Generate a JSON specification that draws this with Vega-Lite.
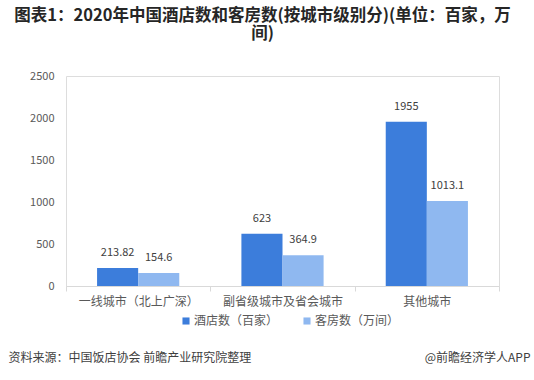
{
  "$schema": "https://vega.github.io/schema/vega-lite/v6.json",
  "width": 433,
  "height": 210,
  "autosize": {"type": "none"},
  "padding": {"left": 66, "top": 76, "right": 35, "bottom": 94},
  "background": "white",
  "title": {
    "text": "图表1：2020年中国酒店数和客房数(按城市级别分)(单位：百家，万",
    "subtitle": "间)",
    "font": "Noto Sans CJK SC",
    "fontSize": 16.5,
    "fontWeight": "bold",
    "color": "#262626",
    "subtitleFont": "Noto Sans CJK SC",
    "subtitleFontSize": 16.5,
    "subtitleFontWeight": "bold",
    "subtitleColor": "#262626",
    "subtitlePadding": 1,
    "anchor": "middle",
    "dx": -20,
    "offset": 28
  },
  "data": {
    "values": [
      {"city": "一线城市（北上广深）", "series": "酒店数（百家）", "value": 213.82, "label": "213.82"},
      {"city": "一线城市（北上广深）", "series": "客房数（万间）", "value": 154.6, "label": "154.6"},
      {"city": "副省级城市及省会城市", "series": "酒店数（百家）", "value": 623, "label": "623"},
      {"city": "副省级城市及省会城市", "series": "客房数（万间）", "value": 364.9, "label": "364.9"},
      {"city": "其他城市", "series": "酒店数（百家）", "value": 1955, "label": "1955"},
      {"city": "其他城市", "series": "客房数（万间）", "value": 1013.1, "label": "1013.1"}
    ]
  },
  "encoding": {
    "x": {
      "field": "city",
      "type": "nominal",
      "sort": null,
      "scale": {"paddingInner": 0, "paddingOuter": 0},
      "axis": {
        "title": "资料来源：中国饭店协会 前瞻产业研究院整理",
        "titleFont": "Noto Sans CJK SC",
        "titleFontSize": 12,
        "titleFontWeight": "normal",
        "titleColor": "#404040",
        "titleAnchor": "start",
        "titleAlign": "left",
        "titleBaseline": "middle",
        "titleX": -58,
        "titleY": 71,
        "labelAngle": 0,
        "labelFont": "Noto Sans CJK SC",
        "labelFontSize": 12,
        "labelColor": "#595959",
        "labelPadding": 5,
        "domainColor": "#d9d9d9",
        "tickColor": "#d9d9d9",
        "tickSize": 5,
        "tickBand": "extent"
      }
    },
    "xOffset": {
      "field": "series",
      "type": "nominal",
      "sort": null,
      "scale": {"paddingInner": 0, "paddingOuter": 0.756}
    },
    "y": {
      "field": "value",
      "type": "quantitative",
      "scale": {"domain": [0, 2500]},
      "axis": {
        "values": [0, 500, 1000, 1500, 2000, 2500],
        "format": "d",
        "grid": false,
        "domain": false,
        "ticks": false,
        "labelFont": "Noto Sans CJK SC",
        "labelFontSize": 11,
        "labelColor": "#595959",
        "labelPadding": 12,
        "title": "@前瞻经济学人APP",
        "titleFont": "Noto Sans CJK SC",
        "titleFontSize": 12,
        "titleFontWeight": "normal",
        "titleColor": "#404040",
        "titleAngle": 0,
        "titleAlign": "right",
        "titleBaseline": "middle",
        "titleX": 464,
        "titleY": 281
      }
    }
  },
  "layer": [
    {
      "mark": {"type": "bar"},
      "encoding": {
        "color": {
          "field": "series",
          "type": "nominal",
          "sort": null,
          "scale": {"range": ["#3c7ddb", "#8fb8f0"]},
          "legend": {
            "title": null,
            "orient": "none",
            "direction": "horizontal",
            "legendX": 114,
            "legendY": 239,
            "symbolType": "square",
            "symbolSize": 50,
            "symbolStrokeWidth": 0,
            "labelFont": "Noto Sans CJK SC",
            "labelFontSize": 12,
            "labelColor": "#595959",
            "labelOffset": 2,
            "columnPadding": 22
          }
        }
      }
    },
    {
      "mark": {
        "type": "text",
        "dy": -15,
        "font": "Noto Sans CJK SC",
        "fontSize": 11,
        "color": "#404040"
      },
      "encoding": {
        "text": {"field": "label", "type": "nominal"}
      }
    }
  ]
}
